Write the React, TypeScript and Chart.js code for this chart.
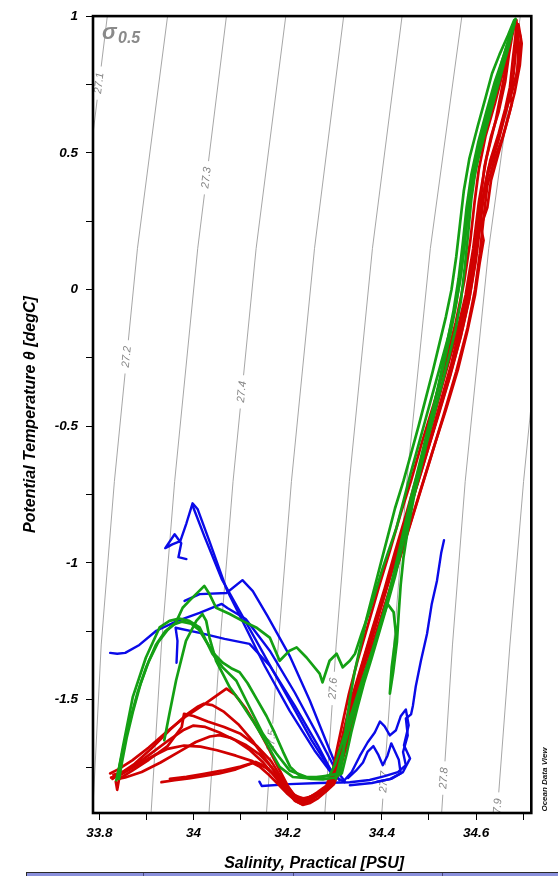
import React, { useEffect, useRef } from "react";
import { Chart, registerables } from "chart.js";

Chart.register(...registerables);

const FONT = '"Liberation Sans", Arial, Helvetica, sans-serif';

// ---- axes ----
const X_MIN = 33.7866;
const X_MAX = 34.7174;
const Y_MIN = -1.9147;
const Y_MAX = 1.0;
const X_TICKS_LABELED = [33.8, 34.0, 34.2, 34.4, 34.6];
const X_TICKS_MINOR = [33.9, 34.1, 34.3, 34.5, 34.7];
const Y_TICKS_LABELED = [1, 0.5, 0, -0.5, -1, -1.5];
const Y_TICKS_MINOR = [0.75, 0.25, -0.25, -0.75, -1.25, -1.75];

const X_TITLE = "Salinity, Practical [PSU]";
const Y_TITLE = "Potential Temperature θ [degC]";

// ---- sigma-0.5 isopycnals: salinity at each temperature level ----
const CONTOUR_T = [1.0, 0.15, -0.702, -1.3, -1.914];
const CONTOUR_LABELS = ["27.1", "27.2", "27.3", "27.4", "27.5", "27.6", "27.7", "27.8", "27.9"];
const S_27_1 = [33.817, 33.757, 33.704, 33.676, 33.652];
const S_27_2 = [33.945, 33.881, 33.832, 33.804, 33.786];
const S_27_3 = [34.07, 34.009, 33.96, 33.932, 33.91];
const S_27_4 = [34.196, 34.133, 34.084, 34.056, 34.033];
const S_27_5 = [34.319, 34.257, 34.208, 34.18, 34.155];
const S_27_6 = [34.443, 34.38, 34.331, 34.303, 34.279];
const S_27_7 = [34.57, 34.503, 34.453, 34.425, 34.4];
const S_27_8 = [34.694, 34.627, 34.577, 34.55, 34.527];
const S_27_9 = [34.817, 34.75, 34.701, 34.672, 34.645];
const CONTOUR_S = [S_27_1, S_27_2, S_27_3, S_27_4, S_27_5, S_27_6, S_27_7, S_27_8, S_27_9];
// temperature at which each contour label sits
const CONTOUR_LABEL_T = [0.755, -0.246, 0.409, -0.374, -1.649, -1.459, -1.801, -1.787, -1.9];

// ---- profiles [salinity, potential temperature] ----
const BLUE_1 = [[34.532,-0.917],[34.526,-0.964],[34.517,-1.066],[34.506,-1.15],[34.496,-1.259],[34.483,-1.358],[34.472,-1.452],[34.466,-1.522],[34.462,-1.554],[34.451,-1.569],[34.455,-1.631],[34.445,-1.692],[34.451,-1.74],[34.434,-1.765],[34.406,-1.78],[34.374,-1.794],[34.332,-1.802],[34.268,-1.805],[34.204,-1.809],[34.145,-1.816],[34.14,-1.8]];
const BLUE_2 = [[34.321,-1.794],[34.336,-1.765],[34.353,-1.707],[34.37,-1.656],[34.385,-1.62],[34.396,-1.58],[34.406,-1.598],[34.417,-1.631],[34.43,-1.612],[34.44,-1.561],[34.451,-1.536],[34.457,-1.594],[34.447,-1.667],[34.46,-1.715],[34.445,-1.765],[34.417,-1.791],[34.379,-1.805],[34.332,-1.813]];
const BLUE_3 = [[34.328,-1.787],[34.345,-1.76],[34.36,-1.73],[34.37,-1.69],[34.382,-1.67],[34.392,-1.7],[34.402,-1.74],[34.412,-1.705],[34.42,-1.66],[34.428,-1.69],[34.436,-1.72],[34.44,-1.77],[34.42,-1.79],[34.39,-1.8]];
const BLUE_4 = [[33.985,-0.986],[33.968,-0.979],[33.974,-0.928],[33.96,-0.895],[33.94,-0.946],[33.955,-0.932],[33.972,-0.92],[33.985,-0.855],[33.998,-0.782],[34.009,-0.804],[34.034,-0.921],[34.07,-1.095],[34.109,-1.23],[34.151,-1.376],[34.204,-1.54],[34.257,-1.686],[34.296,-1.776],[34.321,-1.802]];
const BLUE_5 = [[33.998,-0.79],[34.023,-0.902],[34.06,-1.059],[34.098,-1.176],[34.145,-1.321],[34.198,-1.485],[34.251,-1.649],[34.289,-1.751],[34.31,-1.795]];
const BLUE_6 = [[33.823,-1.329],[33.838,-1.332],[33.855,-1.329],[33.885,-1.3],[33.921,-1.248],[33.966,-1.212],[34.013,-1.183],[34.06,-1.15],[34.072,-1.165],[34.111,-1.205],[34.162,-1.321],[34.215,-1.474],[34.264,-1.631],[34.3,-1.751],[34.321,-1.798]];
const BLUE_7 = [[33.981,-1.139],[34.013,-1.114],[34.07,-1.11],[34.104,-1.063],[34.126,-1.103],[34.157,-1.194],[34.204,-1.339],[34.247,-1.503],[34.285,-1.667],[34.311,-1.776]];
const BLUE_8 = [[33.964,-1.365],[33.966,-1.285],[33.962,-1.237],[34.013,-1.256],[34.066,-1.278],[34.119,-1.296],[34.162,-1.376],[34.215,-1.522],[34.264,-1.667],[34.294,-1.766]];

const RED_1 = [[33.823,-1.77],[33.84,-1.755],[33.87,-1.722],[33.905,-1.675],[33.945,-1.615],[33.985,-1.56],[34.025,-1.515],[34.055,-1.478],[34.07,-1.46],[34.088,-1.482],[34.11,-1.53],[34.135,-1.6],[34.16,-1.68],[34.182,-1.755],[34.2,-1.815],[34.218,-1.86],[34.235,-1.866],[34.255,-1.85],[34.275,-1.83],[34.292,-1.8],[34.305,-1.72],[34.318,-1.62],[34.335,-1.5],[34.356,-1.38],[34.38,-1.24],[34.405,-1.1],[34.428,-0.96],[34.452,-0.82],[34.478,-0.66],[34.505,-0.5],[34.53,-0.34],[34.556,-0.18],[34.578,-0.02],[34.594,0.15],[34.606,0.32],[34.622,0.48],[34.642,0.62],[34.66,0.78],[34.672,0.9],[34.683,0.985]];
const RED_2 = [[33.828,-1.79],[33.845,-1.77],[33.875,-1.735],[33.91,-1.68],[33.95,-1.61],[33.985,-1.555],[34.01,-1.525],[34.022,-1.515],[34.04,-1.52],[34.065,-1.545],[34.095,-1.59],[34.125,-1.65],[34.15,-1.71],[34.175,-1.77],[34.198,-1.83],[34.215,-1.87],[34.23,-1.882],[34.248,-1.87],[34.268,-1.845],[34.286,-1.82],[34.3,-1.76],[34.312,-1.68],[34.325,-1.58],[34.342,-1.47],[34.362,-1.35],[34.385,-1.22],[34.41,-1.08],[34.435,-0.94],[34.46,-0.8],[34.483,-0.66],[34.512,-0.5],[34.54,-0.33],[34.565,-0.16],[34.585,0.0],[34.6,0.15],[34.612,0.3],[34.625,0.42],[34.65,0.56],[34.668,0.68],[34.68,0.79],[34.686,0.9],[34.684,0.975]];
const RED_3 = [[33.835,-1.8],[33.838,-1.83],[33.842,-1.79],[33.87,-1.76],[33.905,-1.72],[33.945,-1.67],[33.975,-1.6],[33.98,-1.552],[34.0,-1.56],[34.03,-1.58],[34.065,-1.6],[34.1,-1.625],[34.135,-1.67],[34.165,-1.725],[34.188,-1.79],[34.205,-1.84],[34.222,-1.872],[34.24,-1.875],[34.26,-1.855],[34.28,-1.83],[34.298,-1.805],[34.308,-1.74],[34.32,-1.65],[34.333,-1.56],[34.35,-1.45],[34.372,-1.32],[34.395,-1.18],[34.418,-1.05],[34.443,-0.9],[34.466,-0.76],[34.492,-0.61],[34.52,-0.44],[34.548,-0.27],[34.57,-0.11],[34.588,0.05],[34.602,0.2],[34.61,0.33],[34.618,0.45],[34.632,0.56],[34.648,0.65],[34.662,0.76],[34.67,0.86],[34.68,0.96]];
const RED_4 = [[33.83,-1.775],[33.85,-1.765],[33.88,-1.735],[33.915,-1.69],[33.95,-1.645],[33.98,-1.61],[34.0,-1.595],[34.025,-1.6],[34.055,-1.62],[34.09,-1.65],[34.12,-1.685],[34.148,-1.73],[34.172,-1.78],[34.192,-1.825],[34.21,-1.858],[34.225,-1.87],[34.242,-1.862],[34.262,-1.84],[34.282,-1.815],[34.296,-1.76],[34.305,-1.68],[34.316,-1.59],[34.33,-1.48],[34.348,-1.36],[34.37,-1.23],[34.395,-1.08],[34.418,-0.95],[34.44,-0.82],[34.462,-0.7],[34.485,-0.56],[34.51,-0.42],[34.535,-0.27],[34.557,-0.12],[34.575,0.03],[34.588,0.18],[34.597,0.32],[34.606,0.44],[34.62,0.56],[34.64,0.68],[34.658,0.8],[34.672,0.9],[34.682,0.98]];
const RED_5 = [[33.84,-1.79],[33.855,-1.785],[33.89,-1.765],[33.93,-1.73],[33.97,-1.69],[34.005,-1.655],[34.035,-1.635],[34.055,-1.63],[34.08,-1.64],[34.11,-1.665],[34.14,-1.7],[34.165,-1.745],[34.185,-1.79],[34.205,-1.835],[34.22,-1.86],[34.238,-1.868],[34.256,-1.855],[34.276,-1.835],[34.295,-1.81],[34.308,-1.76],[34.322,-1.67],[34.338,-1.56],[34.357,-1.44],[34.38,-1.3],[34.405,-1.16],[34.431,-1.02],[34.456,-0.88],[34.481,-0.74],[34.508,-0.59],[34.536,-0.44],[34.562,-0.29],[34.582,-0.15],[34.598,-0.02],[34.608,0.1],[34.616,0.18],[34.61,0.23],[34.624,0.3],[34.632,0.4],[34.648,0.5],[34.664,0.6],[34.676,0.68],[34.671,0.72],[34.686,0.78],[34.692,0.86],[34.695,0.92],[34.686,0.975]];
const RED_6 = [[33.825,-1.785],[33.845,-1.775],[33.875,-1.745],[33.91,-1.71],[33.945,-1.68],[33.98,-1.668],[34.015,-1.672],[34.05,-1.685],[34.09,-1.705],[34.125,-1.725],[34.155,-1.75],[34.18,-1.785],[34.2,-1.82],[34.215,-1.85],[34.232,-1.862],[34.25,-1.855],[34.272,-1.835],[34.29,-1.815],[34.303,-1.77],[34.312,-1.7],[34.322,-1.62],[34.336,-1.52],[34.355,-1.4],[34.376,-1.28],[34.4,-1.14],[34.424,-1.0],[34.448,-0.87],[34.47,-0.74],[34.495,-0.6],[34.52,-0.46],[34.546,-0.31],[34.568,-0.17],[34.585,-0.04],[34.598,0.1],[34.606,0.22],[34.614,0.33],[34.626,0.44],[34.646,0.54],[34.66,0.64],[34.676,0.72],[34.688,0.8],[34.69,0.88],[34.688,0.96]];
const RED_7 = [[33.932,-1.802],[33.96,-1.795],[33.99,-1.788],[34.02,-1.78],[34.055,-1.77],[34.09,-1.755],[34.126,-1.732],[34.14,-1.745],[34.16,-1.775],[34.18,-1.81],[34.2,-1.845],[34.218,-1.872],[34.232,-1.885],[34.248,-1.878],[34.265,-1.86],[34.282,-1.835],[34.298,-1.81],[34.312,-1.75],[34.326,-1.66],[34.341,-1.56],[34.358,-1.45],[34.38,-1.32],[34.405,-1.17],[34.428,-1.04],[34.453,-0.9],[34.478,-0.76],[34.503,-0.62],[34.531,-0.46],[34.558,-0.3],[34.582,-0.14],[34.598,0.0],[34.608,0.13],[34.616,0.26],[34.624,0.38],[34.64,0.48],[34.657,0.56],[34.67,0.64],[34.682,0.72],[34.693,0.82],[34.697,0.9],[34.69,0.97]];
const RED_8 = [[33.95,-1.79],[33.985,-1.782],[34.02,-1.772],[34.06,-1.76],[34.1,-1.745],[34.132,-1.728],[34.148,-1.74],[34.168,-1.77],[34.188,-1.805],[34.205,-1.835],[34.222,-1.858],[34.24,-1.862],[34.258,-1.848],[34.278,-1.83],[34.295,-1.805],[34.304,-1.76],[34.314,-1.69],[34.326,-1.6],[34.342,-1.49],[34.362,-1.37],[34.386,-1.23],[34.41,-1.09],[34.436,-0.94],[34.46,-0.8],[34.485,-0.66],[34.514,-0.49],[34.542,-0.33],[34.566,-0.18],[34.586,-0.03],[34.6,0.11],[34.61,0.25],[34.618,0.37],[34.63,0.47],[34.648,0.57],[34.662,0.66],[34.672,0.74],[34.678,0.84],[34.684,0.93],[34.686,0.985]];

const GREEN_1 = [[33.839,-1.777],[33.85,-1.674],[33.871,-1.491],[33.899,-1.346],[33.928,-1.236],[33.949,-1.212],[33.97,-1.204],[33.991,-1.212],[34.013,-1.236],[34.04,-1.332],[34.062,-1.382],[34.091,-1.431],[34.119,-1.528],[34.147,-1.624],[34.176,-1.697],[34.204,-1.759],[34.24,-1.783],[34.274,-1.783],[34.311,-1.769],[34.318,-1.7],[34.324,-1.6],[34.332,-1.5],[34.342,-1.4],[34.355,-1.3],[34.368,-1.2],[34.383,-1.1],[34.398,-1.0],[34.413,-0.9],[34.428,-0.8],[34.446,-0.7],[34.462,-0.6],[34.478,-0.5],[34.493,-0.4],[34.508,-0.3],[34.522,-0.2],[34.536,-0.1],[34.548,0.0],[34.558,0.12],[34.566,0.24],[34.574,0.36],[34.586,0.48],[34.604,0.6],[34.62,0.7],[34.634,0.79],[34.65,0.86],[34.668,0.93],[34.681,0.985]];
const GREEN_2 = [[33.938,-1.649],[33.949,-1.551],[33.963,-1.43],[33.984,-1.285],[34.006,-1.212],[34.019,-1.187],[34.027,-1.212],[34.034,-1.273],[34.048,-1.358],[34.062,-1.405],[34.077,-1.455],[34.098,-1.504],[34.126,-1.577],[34.155,-1.66],[34.183,-1.746],[34.211,-1.783],[34.247,-1.788],[34.289,-1.777],[34.3,-1.74],[34.315,-1.66],[34.33,-1.58],[34.345,-1.5],[34.36,-1.42],[34.378,-1.33],[34.392,-1.26],[34.402,-1.2],[34.412,-1.15],[34.425,-1.18],[34.43,-1.26],[34.421,-1.38],[34.417,-1.478],[34.424,-1.4],[34.432,-1.29],[34.436,-1.18],[34.44,-1.08],[34.446,-0.98],[34.455,-0.88],[34.468,-0.76],[34.483,-0.65],[34.497,-0.54],[34.51,-0.43],[34.524,-0.32],[34.538,-0.2],[34.552,-0.08],[34.563,0.04],[34.572,0.17],[34.58,0.3],[34.59,0.42],[34.605,0.54],[34.622,0.65],[34.64,0.76],[34.66,0.86],[34.676,0.95],[34.683,0.985]];
const GREEN_3 = [[33.842,-1.79],[33.848,-1.73],[33.858,-1.64],[33.872,-1.54],[33.888,-1.44],[33.905,-1.36],[33.925,-1.29],[33.945,-1.245],[33.962,-1.22],[33.977,-1.164],[33.991,-1.139],[34.023,-1.084],[34.034,-1.114],[34.048,-1.164],[34.077,-1.187],[34.104,-1.212],[34.133,-1.236],[34.162,-1.273],[34.183,-1.358],[34.204,-1.321],[34.219,-1.309],[34.24,-1.346],[34.268,-1.405],[34.274,-1.437],[34.289,-1.358],[34.304,-1.332],[34.317,-1.382],[34.332,-1.358],[34.343,-1.332],[34.357,-1.259],[34.374,-1.176],[34.402,-1.018],[34.431,-0.872],[34.445,-0.78],[34.46,-0.68],[34.476,-0.58],[34.492,-0.48],[34.508,-0.38],[34.524,-0.28],[34.54,-0.18],[34.554,-0.08],[34.566,0.03],[34.575,0.15],[34.582,0.27],[34.592,0.38],[34.605,0.48],[34.62,0.58],[34.636,0.68],[34.652,0.78],[34.668,0.88],[34.682,0.975]];
const GREEN_4 = [[33.836,-1.795],[33.842,-1.75],[33.852,-1.67],[33.866,-1.57],[33.882,-1.47],[33.9,-1.38],[33.92,-1.3],[33.94,-1.25],[33.958,-1.225],[33.975,-1.215],[33.995,-1.222],[34.012,-1.245],[34.028,-1.29],[34.045,-1.335],[34.062,-1.365],[34.08,-1.385],[34.098,-1.4],[34.115,-1.44],[34.135,-1.5],[34.155,-1.56],[34.172,-1.62],[34.19,-1.69],[34.205,-1.745],[34.225,-1.778],[34.25,-1.79],[34.275,-1.792],[34.3,-1.785],[34.315,-1.77],[34.325,-1.7],[34.335,-1.62],[34.348,-1.53],[34.362,-1.44],[34.378,-1.35],[34.395,-1.25],[34.412,-1.15],[34.428,-1.05],[34.442,-0.95],[34.455,-0.85],[34.468,-0.75],[34.482,-0.65],[34.497,-0.55],[34.512,-0.45],[34.527,-0.35],[34.542,-0.25],[34.556,-0.15],[34.568,-0.04],[34.576,0.08],[34.583,0.2],[34.59,0.33],[34.6,0.45],[34.615,0.56],[34.63,0.67],[34.646,0.77],[34.664,0.87],[34.678,0.95],[34.683,0.985]];
const GREEN_5 = [[34.302,-1.79],[34.312,-1.72],[34.325,-1.64],[34.338,-1.56],[34.352,-1.48],[34.366,-1.4],[34.38,-1.32],[34.392,-1.25],[34.404,-1.18],[34.415,-1.11],[34.428,-1.02],[34.44,-0.93],[34.452,-0.84],[34.462,-0.76],[34.474,-0.68],[34.488,-0.58],[34.502,-0.48],[34.517,-0.38],[34.532,-0.27],[34.546,-0.16],[34.558,-0.05],[34.568,0.06],[34.576,0.18],[34.584,0.3],[34.594,0.42],[34.608,0.53],[34.624,0.64],[34.64,0.74],[34.656,0.84],[34.672,0.93],[34.684,0.99]];

const BLUE_PROFILES = [BLUE_1, BLUE_2, BLUE_3, BLUE_4, BLUE_5, BLUE_6, BLUE_7, BLUE_8];
const RED_PROFILES = [RED_1, RED_2, RED_3, RED_4, RED_5, RED_6, RED_7, RED_8];
const GREEN_PROFILES = [GREEN_1, GREEN_2, GREEN_3, GREEN_4, GREEN_5];

const BLUE = "#0a0ae8";
const RED = "#d00000";
const GREEN = "#14a014";
const CONTOUR_COLOR = "#9c9c9c";

const fmt = (v: number) => String(Number(v.toFixed(2)));
const isIn = (arr: number[], v: number) => arr.some((a) => Math.abs(a - v) < 1e-6);

const decorPlugin = {
  id: "decor",
  afterDatasetDraw(chart: any, args: any) {
    if (args.index !== 0) return;
    const { ctx, chartArea } = chart;
    const xs = chart.scales.x;
    const ys = chart.scales.y;
    ctx.save();
    ctx.beginPath();
    ctx.rect(chartArea.left, chartArea.top, chartArea.right - chartArea.left, chartArea.bottom - chartArea.top);
    ctx.clip();
    ctx.font = `italic 11px ${FONT}`;
    CONTOUR_LABELS.forEach((lab, i) => {
      const sArr = CONTOUR_S[i];
      const t = CONTOUR_LABEL_T[i];
      let k = 0;
      while (k < CONTOUR_T.length - 2 && CONTOUR_T[k + 1] > t) k++;
      const t0 = CONTOUR_T[k];
      const t1 = CONTOUR_T[k + 1];
      const f = (t0 - t) / (t0 - t1);
      const s = sArr[k] + f * (sArr[k + 1] - sArr[k]);
      const px = xs.getPixelForValue(s);
      const py = ys.getPixelForValue(t);
      const ax = xs.getPixelForValue(sArr[k]) - xs.getPixelForValue(sArr[k + 1]);
      const ay = ys.getPixelForValue(t0) - ys.getPixelForValue(t1);
      const ang = Math.atan2(ay, ax);
      ctx.save();
      ctx.translate(px, py);
      ctx.rotate(ang);
      const w = ctx.measureText(lab).width;
      ctx.fillStyle = "#ffffff";
      ctx.fillRect(-w / 2 - 6, -5, w + 12, 10);
      ctx.fillStyle = "#858585";
      ctx.textAlign = "center";
      ctx.textBaseline = "middle";
      ctx.fillText(lab, 0, 0);
      ctx.restore();
    });
    ctx.restore();
  },
  afterDatasetsDraw(chart: any) {
    const { ctx, chartArea } = chart;
    ctx.save();
    ctx.strokeStyle = "#000";
    ctx.lineWidth = 2.6;
    ctx.strokeRect(chartArea.left, chartArea.top, chartArea.right - chartArea.left, chartArea.bottom - chartArea.top);
    ctx.restore();
  },
  afterDraw(chart: any) {
    const { ctx, chartArea } = chart;
    ctx.save();
    // sigma label
    ctx.fillStyle = "#8a8a8a";
    ctx.textBaseline = "alphabetic";
    ctx.textAlign = "left";
    ctx.font = `italic bold 22px ${FONT}`;
    ctx.fillText("σ", chartArea.left + 9, 39);
    ctx.font = `italic bold 16px ${FONT}`;
    ctx.fillText("0.5", chartArea.left + 25, 42.5);
    // axis titles
    ctx.fillStyle = "#000";
    ctx.font = `italic bold 16px ${FONT}`;
    ctx.textAlign = "center";
    ctx.textBaseline = "middle";
    ctx.fillText(X_TITLE, (chartArea.left + chartArea.right) / 2 + 2, 864);
    ctx.save();
    ctx.translate(30.5, (chartArea.top + chartArea.bottom) / 2);
    ctx.rotate(-Math.PI / 2);
    ctx.fillText(Y_TITLE, 0, 0);
    ctx.restore();
    // watermark
    ctx.save();
    ctx.translate(545, 779.5);
    ctx.rotate(-Math.PI / 2);
    ctx.font = `italic bold 8px ${FONT}`;
    ctx.fillStyle = "#111";
    ctx.fillText("Ocean Data View", 0, 0);
    ctx.restore();
    ctx.restore();
  },
};

export default function App() {
  const canvasRef = useRef<HTMLCanvasElement | null>(null);

  useEffect(() => {
    if (!canvasRef.current) return;
    const toXY = (arr: number[][]) => arr.map(([s, t]) => ({ x: s, y: t }));
    const contourSets = CONTOUR_LABELS.map((lab, i) => ({
      label: "σ0.5 " + lab,
      data: CONTOUR_T.map((t, k) => ({ x: CONTOUR_S[i][k], y: t })),
      borderColor: CONTOUR_COLOR,
      borderWidth: 0.9,
      pointRadius: 0,
      tension: 0,
      fill: false,
      order: 100,
    }));
    const mk = (arr: number[][], color: string, order: number, width: number) => ({
      label: "profile",
      data: toXY(arr),
      borderColor: color,
      borderWidth: width,
      pointRadius: 0,
      tension: 0,
      fill: false,
      order,
      borderJoinStyle: "round" as const,
      borderCapStyle: "round" as const,
    });
    const datasets: any[] = [
      ...contourSets,
      ...BLUE_PROFILES.map((p) => mk(p, BLUE, 3, 2.4)),
      ...RED_PROFILES.map((p) => mk(p, RED, 2, 2.7)),
      ...GREEN_PROFILES.map((p) => mk(p, GREEN, 1, 2.7)),
    ];

    const tickFont = { family: FONT, size: 13.5, style: "italic" as const, weight: "bold" as const };

    const chart = new Chart(canvasRef.current, {
      type: "line",
      data: { datasets },
      options: {
        animation: false,
        responsive: false,
        maintainAspectRatio: false,
        events: [],
        layout: { padding: { left: 0, right: 26.7, top: 13.5, bottom: 0 } },
        plugins: { legend: { display: false }, tooltip: { enabled: false }, title: { display: false } },
        scales: {
          x: {
            type: "linear",
            min: X_MIN,
            max: X_MAX,
            afterBuildTicks: (scale: any) => {
              scale.ticks = [...X_TICKS_LABELED, ...X_TICKS_MINOR].sort((a, b) => a - b).map((v) => ({ value: v }));
            },
            afterFit: (scale: any) => {
              scale.height = 63;
            },
            ticks: {
              autoSkip: false,
              maxRotation: 0,
              minRotation: 0,
              padding: 5,
              color: "#000",
              font: tickFont,
              callback: (v: any) => (isIn(X_TICKS_LABELED, Number(v)) ? fmt(Number(v)) : ""),
            },
            grid: { display: true, drawOnChartArea: false, drawTicks: true, tickLength: 7, color: "#000", lineWidth: 1 },
            border: { display: false },
          },
          y: {
            type: "linear",
            min: Y_MIN,
            max: Y_MAX,
            afterBuildTicks: (scale: any) => {
              scale.ticks = [...Y_TICKS_LABELED, ...Y_TICKS_MINOR].sort((a, b) => a - b).map((v) => ({ value: v }));
            },
            afterFit: (scale: any) => {
              scale.width = 93;
            },
            ticks: {
              autoSkip: false,
              padding: 8,
              color: "#000",
              font: tickFont,
              callback: (v: any) => (isIn(Y_TICKS_LABELED, Number(v)) ? fmt(Number(v)) : ""),
            },
            grid: { display: true, drawOnChartArea: false, drawTicks: true, tickLength: 7, color: "#000", lineWidth: 1 },
            border: { display: false },
          },
        },
      } as any,
      plugins: [decorPlugin as any],
    });
    return () => chart.destroy();
  }, []);

  const dividers = [116, 266, 415];

  return (
    <div style={{ position: "fixed", left: 0, top: 0, width: 558, height: 876, background: "#fff", overflow: "hidden" }}>
      <canvas ref={canvasRef} width={558} height={876} style={{ display: "block", width: 558, height: 876 }} />
      <div
        style={{
          position: "absolute",
          left: 26,
          top: 872,
          width: 540,
          height: 8,
          background: "#8a90dc",
          borderTop: "1.5px solid #2a2a2a",
          borderLeft: "1.5px solid #2a2a2a",
          boxSizing: "border-box",
        }}
      >
        {dividers.map((d) => (
          <div key={d} style={{ position: "absolute", left: d, top: 0, width: 1, height: "100%", background: "#4a4a7a" }} />
        ))}
      </div>
    </div>
  );
}
